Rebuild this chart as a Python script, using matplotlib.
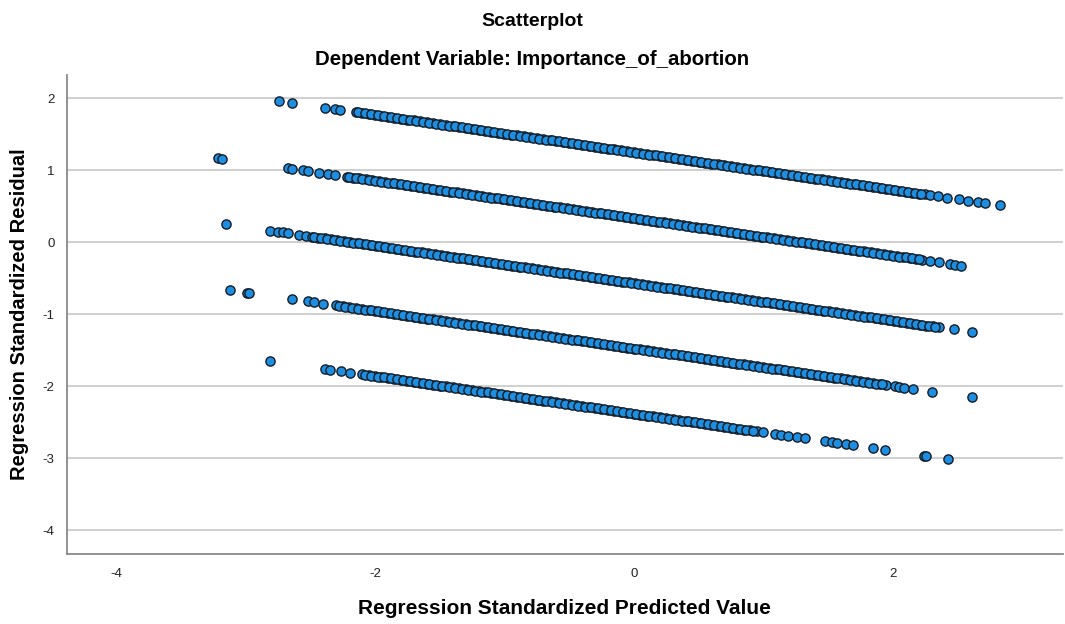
import matplotlib
matplotlib.use('Agg')
import matplotlib.pyplot as plt

plt.rcParams['font.family'] = ['Liberation Sans', 'DejaVu Sans']
plt.rcParams['axes.unicode_minus'] = False

# band 1 (top line of residuals)
band1_x = [-2.74, -2.64, -2.39, -2.31, -2.27,
           -2.15, -2.10, -2.05, -2.00, -1.95, -1.90, -1.85, -1.80, -1.75, -1.70,
           -1.65, -1.60, -1.55, -1.50, -1.45, -1.40, -1.35, -1.30, -1.25, -1.20,
           -1.15, -1.10, -1.05, -1.00, -0.95, -0.90, -0.85, -0.80, -0.75, -0.70,
           -0.65, -0.60, -0.55, -0.50, -0.45, -0.40, -0.35, -0.30, -0.25, -0.20,
           -0.15, -0.10, -0.05, 0.00, 0.05, 0.10, 0.15, 0.20, 0.25, 0.30,
           0.35, 0.40, 0.45, 0.50, 0.55, 0.60, 0.65, 0.70, 0.75, 0.80,
           0.85, 0.90, 0.95, 1.00, 1.05, 1.10, 1.15, 1.20, 1.25, 1.30,
           1.35, 1.40, 1.45, 1.50, 1.55, 1.60, 1.65, 1.70, 1.75, 1.80,
           1.85, 1.90, 1.95, 2.00, 2.05, 2.10, 2.15, 2.20, 2.25,
           2.29, 2.35, 2.42, 2.51, 2.58, 2.66, 2.71, 2.83]
band1_y = [1.959, 1.933, 1.868, 1.848, 1.837,
           1.806, 1.793, 1.780, 1.767, 1.754, 1.741, 1.728, 1.715, 1.702, 1.689,
           1.676, 1.663, 1.650, 1.637, 1.624, 1.611, 1.598, 1.585, 1.572, 1.559,
           1.546, 1.533, 1.520, 1.507, 1.494, 1.481, 1.468, 1.455, 1.442, 1.429,
           1.416, 1.403, 1.390, 1.377, 1.364, 1.351, 1.338, 1.325, 1.312, 1.299,
           1.286, 1.273, 1.260, 1.247, 1.234, 1.221, 1.208, 1.195, 1.182, 1.169,
           1.156, 1.143, 1.130, 1.117, 1.104, 1.091, 1.078, 1.065, 1.052, 1.039,
           1.026, 1.013, 1.000, 0.987, 0.974, 0.961, 0.948, 0.935, 0.922, 0.909,
           0.896, 0.883, 0.870, 0.857, 0.844, 0.831, 0.818, 0.805, 0.792, 0.779,
           0.766, 0.753, 0.740, 0.727, 0.714, 0.701, 0.688, 0.675, 0.662,
           0.652, 0.636, 0.618, 0.594, 0.576, 0.555, 0.542, 0.511]
band1_mid_x = [-2.13, -2.08, -2.03, -1.98, -1.93, -1.88, -1.83, -1.78, -1.73, -1.68,
               -1.63, -1.58, -1.53, -1.48, -1.43, -1.38, -1.33, -1.28, -1.23, -1.18,
               -1.13, -1.08, -1.03, -0.98, -0.93, -0.88, -0.83, -0.78, -0.73, -0.68,
               -0.63, -0.58, -0.53, -0.48, -0.43, -0.38, -0.33, -0.28, -0.23, -0.18,
               -0.13, -0.08, -0.03, 0.02, 0.07, 0.12, 0.17, 0.22, 0.27, 0.32,
               0.37, 0.42, 0.47, 0.52, 0.57, 0.62, 0.67, 0.72, 0.77, 0.82,
               0.87, 0.92, 0.97, 1.02, 1.07, 1.12, 1.17, 1.22, 1.27, 1.32,
               1.37, 1.42, 1.47, 1.52, 1.57, 1.62, 1.67, 1.72, 1.77, 1.82,
               1.87, 1.92, 1.97, 2.02, 2.07, 2.12, 2.17, 2.22]
band1_mid_y = [1.801, 1.788, 1.775, 1.762, 1.749, 1.736, 1.723, 1.710, 1.697, 1.684,
               1.671, 1.658, 1.645, 1.632, 1.619, 1.606, 1.593, 1.580, 1.567, 1.554,
               1.541, 1.528, 1.515, 1.502, 1.489, 1.476, 1.463, 1.450, 1.437, 1.424,
               1.411, 1.398, 1.385, 1.372, 1.359, 1.346, 1.333, 1.320, 1.307, 1.294,
               1.281, 1.268, 1.255, 1.242, 1.229, 1.216, 1.203, 1.190, 1.177, 1.164,
               1.151, 1.138, 1.125, 1.112, 1.099, 1.086, 1.073, 1.060, 1.047, 1.034,
               1.021, 1.008, 0.995, 0.982, 0.969, 0.956, 0.943, 0.930, 0.917, 0.904,
               0.891, 0.878, 0.865, 0.852, 0.839, 0.826, 0.813, 0.800, 0.787, 0.774,
               0.761, 0.748, 0.735, 0.722, 0.709, 0.696, 0.683, 0.670]

band2_x = [-3.21, -3.18, -2.67, -2.64, -2.56, -2.52, -2.43, -2.36, -2.31,
           -2.22, -2.17, -2.12, -2.07, -2.02, -1.97, -1.92, -1.87, -1.82, -1.77,
           -1.72, -1.67, -1.62, -1.57, -1.52, -1.47, -1.42, -1.37, -1.32, -1.27,
           -1.22, -1.17, -1.12, -1.07, -1.02, -0.97, -0.92, -0.87, -0.82, -0.77,
           -0.72, -0.67, -0.62, -0.57, -0.52, -0.47, -0.42, -0.37, -0.32, -0.27,
           -0.22, -0.17, -0.12, -0.07, -0.02, 0.03, 0.08, 0.13, 0.18, 0.23,
           0.28, 0.33, 0.38, 0.43, 0.48, 0.53, 0.58, 0.63, 0.68, 0.73,
           0.78, 0.83, 0.88, 0.93, 0.98, 1.03, 1.08, 1.13, 1.18, 1.23,
           1.28, 1.33, 1.38, 1.43, 1.48, 1.53, 1.58, 1.63, 1.68, 1.73,
           1.78, 1.83, 1.88, 1.93, 1.98, 2.03, 2.08, 2.13, 2.18, 2.23,
           2.29, 2.36, 2.44, 2.48, 2.53]
band2_y = [1.168, 1.160, 1.027, 1.019, 0.999, 0.988, 0.965, 0.947, 0.934,
           0.910, 0.897, 0.884, 0.871, 0.858, 0.845, 0.832, 0.819, 0.806, 0.793,
           0.780, 0.767, 0.754, 0.741, 0.728, 0.715, 0.702, 0.689, 0.676, 0.663,
           0.650, 0.637, 0.624, 0.611, 0.598, 0.585, 0.572, 0.559, 0.546, 0.533,
           0.520, 0.507, 0.494, 0.481, 0.468, 0.455, 0.442, 0.429, 0.416, 0.403,
           0.390, 0.377, 0.364, 0.351, 0.338, 0.325, 0.312, 0.299, 0.286, 0.273,
           0.260, 0.247, 0.234, 0.221, 0.208, 0.195, 0.182, 0.169, 0.156, 0.143,
           0.130, 0.117, 0.104, 0.091, 0.078, 0.065, 0.052, 0.039, 0.026, 0.013,
           0.000, -0.013, -0.026, -0.039, -0.052, -0.065, -0.078, -0.091, -0.104, -0.117,
           -0.130, -0.143, -0.156, -0.169, -0.182, -0.195, -0.208, -0.221, -0.234, -0.247,
           -0.262, -0.281, -0.301, -0.312, -0.325]
band2_mid_x = [-2.20, -2.15, -2.10, -2.05, -2.00, -1.95, -1.90, -1.85, -1.80, -1.75,
               -1.70, -1.65, -1.60, -1.55, -1.50, -1.45, -1.40, -1.35, -1.30, -1.25,
               -1.20, -1.15, -1.10, -1.05, -1.00, -0.95, -0.90, -0.85, -0.80, -0.75,
               -0.70, -0.65, -0.60, -0.55, -0.50, -0.45, -0.40, -0.35, -0.30, -0.25,
               -0.20, -0.15, -0.10, -0.05, 0.00, 0.05, 0.10, 0.15, 0.20, 0.25,
               0.30, 0.35, 0.40, 0.45, 0.50, 0.55, 0.60, 0.65, 0.70, 0.75,
               0.80, 0.85, 0.90, 0.95, 1.00, 1.05, 1.10, 1.15, 1.20, 1.25,
               1.30, 1.35, 1.40, 1.45, 1.50, 1.55, 1.60, 1.65, 1.70, 1.75,
               1.80, 1.85, 1.90, 1.95, 2.00, 2.05, 2.10, 2.15, 2.20]
band2_mid_y = [0.905, 0.892, 0.879, 0.866, 0.853, 0.840, 0.827, 0.814, 0.801, 0.788,
               0.775, 0.762, 0.749, 0.736, 0.723, 0.710, 0.697, 0.684, 0.671, 0.658,
               0.645, 0.632, 0.619, 0.606, 0.593, 0.580, 0.567, 0.554, 0.541, 0.528,
               0.515, 0.502, 0.489, 0.476, 0.463, 0.450, 0.437, 0.424, 0.411, 0.398,
               0.385, 0.372, 0.359, 0.346, 0.333, 0.320, 0.307, 0.294, 0.281, 0.268,
               0.255, 0.242, 0.229, 0.216, 0.203, 0.190, 0.177, 0.164, 0.151, 0.138,
               0.125, 0.112, 0.099, 0.086, 0.073, 0.060, 0.047, 0.034, 0.021, 0.008,
               -0.005, -0.018, -0.031, -0.044, -0.057, -0.070, -0.083, -0.096, -0.109, -0.122,
               -0.135, -0.148, -0.161, -0.174, -0.187, -0.200, -0.213, -0.226, -0.239]

band3_x = [-3.155, -2.81, -2.75, -2.71, -2.67, -2.59, -2.53,
           -2.49, -2.44, -2.39, -2.34, -2.29, -2.24, -2.19, -2.14, -2.09, -2.04,
           -1.99, -1.94, -1.89, -1.84, -1.79, -1.74, -1.69, -1.64, -1.59, -1.54,
           -1.49, -1.44, -1.39, -1.34, -1.29, -1.24, -1.19, -1.14, -1.09, -1.04,
           -0.99, -0.94, -0.89, -0.84, -0.79, -0.74, -0.69, -0.64, -0.59, -0.54,
           -0.49, -0.44, -0.39, -0.34, -0.29, -0.24, -0.19, -0.14, -0.09, -0.04,
           0.01, 0.06, 0.11, 0.16, 0.21, 0.26, 0.31, 0.36, 0.41, 0.46,
           0.51, 0.56, 0.61, 0.66, 0.71, 0.76, 0.81, 0.86, 0.91, 0.96,
           1.01, 1.06, 1.11, 1.16, 1.21, 1.26, 1.31, 1.36, 1.41, 1.46,
           1.51, 1.56, 1.61, 1.66, 1.71, 1.76, 1.81, 1.86, 1.91, 1.96,
           2.01, 2.06, 2.11, 2.16, 2.21, 2.26, 2.31, 2.36,
           2.47, 2.61]
band3_y = [0.250, 0.161, 0.145, 0.135, 0.124, 0.103, 0.088,
           0.077, 0.064, 0.051, 0.038, 0.025, 0.012, -0.001, -0.014, -0.027, -0.040,
           -0.053, -0.066, -0.079, -0.092, -0.105, -0.118, -0.131, -0.144, -0.157, -0.170,
           -0.183, -0.196, -0.209, -0.222, -0.235, -0.248, -0.261, -0.274, -0.287, -0.300,
           -0.313, -0.326, -0.339, -0.352, -0.365, -0.378, -0.391, -0.404, -0.417, -0.430,
           -0.443, -0.456, -0.469, -0.482, -0.495, -0.508, -0.521, -0.534, -0.547, -0.560,
           -0.573, -0.586, -0.599, -0.612, -0.625, -0.638, -0.651, -0.664, -0.677, -0.690,
           -0.703, -0.716, -0.729, -0.742, -0.755, -0.768, -0.781, -0.794, -0.807, -0.820,
           -0.833, -0.846, -0.859, -0.872, -0.885, -0.898, -0.911, -0.924, -0.937, -0.950,
           -0.963, -0.976, -0.989, -1.002, -1.015, -1.028, -1.041, -1.054, -1.067, -1.080,
           -1.093, -1.106, -1.119, -1.132, -1.145, -1.158, -1.171, -1.184,
           -1.212, -1.249]
band3_mid_x = [-2.47, -2.42, -2.37, -2.32, -2.27, -2.22, -2.17, -2.12, -2.07, -2.02,
               -1.97, -1.92, -1.87, -1.82, -1.77, -1.72, -1.67, -1.62, -1.57, -1.52,
               -1.47, -1.42, -1.37, -1.32, -1.27, -1.22, -1.17, -1.12, -1.07, -1.02,
               -0.97, -0.92, -0.87, -0.82, -0.77, -0.72, -0.67, -0.62, -0.57, -0.52,
               -0.47, -0.42, -0.37, -0.32, -0.27, -0.22, -0.17, -0.12, -0.07, -0.02,
               0.03, 0.08, 0.13, 0.18, 0.23, 0.28, 0.33, 0.38, 0.43, 0.48,
               0.53, 0.58, 0.63, 0.68, 0.73, 0.78, 0.83, 0.88, 0.93, 0.98,
               1.03, 1.08, 1.13, 1.18, 1.23, 1.28, 1.33, 1.38, 1.43, 1.48,
               1.53, 1.58, 1.63, 1.68, 1.73, 1.78, 1.83, 1.88, 1.93, 1.98,
               2.03, 2.08, 2.13, 2.18, 2.23, 2.28, 2.33]
band3_mid_y = [0.072, 0.059, 0.046, 0.033, 0.020, 0.007, -0.006, -0.019, -0.032, -0.045,
               -0.058, -0.071, -0.084, -0.097, -0.110, -0.123, -0.136, -0.149, -0.162, -0.175,
               -0.188, -0.201, -0.214, -0.227, -0.240, -0.253, -0.266, -0.279, -0.292, -0.305,
               -0.318, -0.331, -0.344, -0.357, -0.370, -0.383, -0.396, -0.409, -0.422, -0.435,
               -0.448, -0.461, -0.474, -0.487, -0.500, -0.513, -0.526, -0.539, -0.552, -0.565,
               -0.578, -0.591, -0.604, -0.617, -0.630, -0.643, -0.656, -0.669, -0.682, -0.695,
               -0.708, -0.721, -0.734, -0.747, -0.760, -0.773, -0.786, -0.799, -0.812, -0.825,
               -0.838, -0.851, -0.864, -0.877, -0.890, -0.903, -0.916, -0.929, -0.942, -0.955,
               -0.968, -0.981, -0.994, -1.007, -1.020, -1.033, -1.046, -1.059, -1.072, -1.085,
               -1.098, -1.111, -1.124, -1.137, -1.150, -1.163, -1.176]

band4_x = [-3.12, -2.99, -2.97, -2.64, -2.52, -2.47, -2.40,
           -2.30, -2.25, -2.20, -2.15, -2.10, -2.05, -2.00, -1.95, -1.90, -1.85,
           -1.80, -1.75, -1.70, -1.65, -1.60, -1.55, -1.50, -1.45, -1.40, -1.35,
           -1.30, -1.25, -1.20, -1.15, -1.10, -1.05, -1.00, -0.95, -0.90, -0.85,
           -0.80, -0.75, -0.70, -0.65, -0.60, -0.55, -0.50, -0.45, -0.40, -0.35,
           -0.30, -0.25, -0.20, -0.15, -0.10, -0.05, 0.00, 0.05, 0.10, 0.15,
           0.20, 0.25, 0.30, 0.35, 0.40, 0.45, 0.50, 0.55, 0.60, 0.65,
           0.70, 0.75, 0.80, 0.85, 0.90, 0.95, 1.00, 1.05, 1.10, 1.15,
           1.20, 1.25, 1.30, 1.35, 1.40, 1.45, 1.50, 1.55, 1.60, 1.65,
           1.70, 1.75, 1.80, 1.85, 1.90, 1.95,
           2.02, 2.05, 2.09, 2.16, 2.30, 2.61]
band4_y = [-0.666, -0.700, -0.705, -0.791, -0.822, -0.835, -0.853,
           -0.879, -0.892, -0.905, -0.918, -0.931, -0.944, -0.957, -0.970, -0.983, -0.996,
           -1.009, -1.022, -1.035, -1.048, -1.061, -1.074, -1.087, -1.100, -1.113, -1.126,
           -1.139, -1.152, -1.165, -1.178, -1.191, -1.204, -1.217, -1.230, -1.243, -1.256,
           -1.269, -1.282, -1.295, -1.308, -1.321, -1.334, -1.347, -1.360, -1.373, -1.386,
           -1.399, -1.412, -1.425, -1.438, -1.451, -1.464, -1.477, -1.490, -1.503, -1.516,
           -1.529, -1.542, -1.555, -1.568, -1.581, -1.594, -1.607, -1.620, -1.633, -1.646,
           -1.659, -1.672, -1.685, -1.698, -1.711, -1.724, -1.737, -1.750, -1.763, -1.776,
           -1.789, -1.802, -1.815, -1.828, -1.841, -1.854, -1.867, -1.880, -1.893, -1.906,
           -1.919, -1.932, -1.945, -1.958, -1.971, -1.984,
           -2.002, -2.010, -2.020, -2.039, -2.075, -2.156]
band4_mid_x = [-2.28, -2.23, -2.18, -2.13, -2.08, -2.03, -1.98, -1.93, -1.88, -1.83,
               -1.78, -1.73, -1.68, -1.63, -1.58, -1.53, -1.48, -1.43, -1.38, -1.33,
               -1.28, -1.23, -1.18, -1.13, -1.08, -1.03, -0.98, -0.93, -0.88, -0.83,
               -0.78, -0.73, -0.68, -0.63, -0.58, -0.53, -0.48, -0.43, -0.38, -0.33,
               -0.28, -0.23, -0.18, -0.13, -0.08, -0.03, 0.02, 0.07, 0.12, 0.17,
               0.22, 0.27, 0.32, 0.37, 0.42, 0.47, 0.52, 0.57, 0.62, 0.67,
               0.72, 0.77, 0.82, 0.87, 0.92, 0.97, 1.02, 1.07, 1.12, 1.17,
               1.22, 1.27, 1.32, 1.37, 1.42, 1.47, 1.52, 1.57, 1.62, 1.67,
               1.72, 1.77, 1.82, 1.87, 1.92]
band4_mid_y = [-0.884, -0.897, -0.910, -0.923, -0.936, -0.949, -0.962, -0.975, -0.988, -1.001,
               -1.014, -1.027, -1.040, -1.053, -1.066, -1.079, -1.092, -1.105, -1.118, -1.131,
               -1.144, -1.157, -1.170, -1.183, -1.196, -1.209, -1.222, -1.235, -1.248, -1.261,
               -1.274, -1.287, -1.300, -1.313, -1.326, -1.339, -1.352, -1.365, -1.378, -1.391,
               -1.404, -1.417, -1.430, -1.443, -1.456, -1.469, -1.482, -1.495, -1.508, -1.521,
               -1.534, -1.547, -1.560, -1.573, -1.586, -1.599, -1.612, -1.625, -1.638, -1.651,
               -1.664, -1.677, -1.690, -1.703, -1.716, -1.729, -1.742, -1.755, -1.768, -1.781,
               -1.794, -1.807, -1.820, -1.833, -1.846, -1.859, -1.872, -1.885, -1.898, -1.911,
               -1.924, -1.937, -1.950, -1.963, -1.976]

band5_x = [-2.81, -2.39, -2.35, -2.26, -2.19,
           -2.10, -2.05, -2.00, -1.95, -1.90, -1.85, -1.80, -1.75, -1.70, -1.65,
           -1.60, -1.55, -1.50, -1.45, -1.40, -1.35, -1.30, -1.25, -1.20, -1.15,
           -1.10, -1.05, -1.00, -0.95, -0.90, -0.85, -0.80, -0.75, -0.70, -0.65,
           -0.60, -0.55, -0.50, -0.45, -0.40, -0.35, -0.30, -0.25, -0.20, -0.15,
           -0.10, -0.05, 0.00, 0.05, 0.10, 0.15, 0.20, 0.25, 0.30, 0.35,
           0.40, 0.45, 0.50, 0.55, 0.60, 0.65, 0.70, 0.75, 0.80, 0.85,
           0.90, 0.95, 1.00,
           1.09, 1.14, 1.19, 1.26, 1.32, 1.48, 1.53, 1.57, 1.64, 1.69,
           1.85, 1.94, 2.24, 2.26, 2.43]
band5_y = [-1.650, -1.760, -1.770, -1.793, -1.812,
           -1.835, -1.848, -1.861, -1.874, -1.887, -1.900, -1.913, -1.926, -1.939, -1.952,
           -1.965, -1.978, -1.991, -2.004, -2.017, -2.030, -2.043, -2.056, -2.069, -2.082,
           -2.095, -2.108, -2.121, -2.134, -2.147, -2.160, -2.173, -2.186, -2.199, -2.212,
           -2.225, -2.238, -2.251, -2.264, -2.277, -2.290, -2.303, -2.316, -2.329, -2.342,
           -2.355, -2.368, -2.381, -2.394, -2.407, -2.420, -2.433, -2.446, -2.459, -2.472,
           -2.485, -2.498, -2.511, -2.524, -2.537, -2.550, -2.563, -2.576, -2.589, -2.602,
           -2.615, -2.628, -2.641,
           -2.664, -2.677, -2.690, -2.709, -2.724, -2.766, -2.779, -2.789, -2.807, -2.820,
           -2.862, -2.885, -2.963, -2.969, -3.013]
band5_mid_x = [-2.08, -2.03, -1.98, -1.93, -1.88, -1.83, -1.78, -1.73, -1.68, -1.63,
               -1.58, -1.53, -1.48, -1.43, -1.38, -1.33, -1.28, -1.23, -1.18, -1.13,
               -1.08, -1.03, -0.98, -0.93, -0.88, -0.83, -0.78, -0.73, -0.68, -0.63,
               -0.58, -0.53, -0.48, -0.43, -0.38, -0.33, -0.28, -0.23, -0.18, -0.13,
               -0.08, -0.03, 0.02, 0.07, 0.12, 0.17, 0.22, 0.27, 0.32, 0.37,
               0.42, 0.47, 0.52, 0.57, 0.62, 0.67, 0.72, 0.77, 0.82, 0.87,
               0.92]
band5_mid_y = [-1.840, -1.853, -1.866, -1.879, -1.892, -1.905, -1.918, -1.931, -1.944, -1.957,
               -1.970, -1.983, -1.996, -2.009, -2.022, -2.035, -2.048, -2.061, -2.074, -2.087,
               -2.100, -2.113, -2.126, -2.139, -2.152, -2.165, -2.178, -2.191, -2.204, -2.217,
               -2.230, -2.243, -2.256, -2.269, -2.282, -2.295, -2.308, -2.321, -2.334, -2.347,
               -2.360, -2.373, -2.386, -2.399, -2.412, -2.425, -2.438, -2.451, -2.464, -2.477,
               -2.490, -2.503, -2.516, -2.529, -2.542, -2.555, -2.568, -2.581, -2.594, -2.607,
               -2.620]

x_ticks = [-4, -2, 0, 2]
y_ticks = [-4, -3, -2, -1, 0, 1, 2]


def main():
    fig = plt.figure(figsize=(10.65, 6.24), dpi=100)
    ax = fig.add_axes([0.0629, 0.1127, 0.9351, 0.7671])

    series = [(band1_x, band1_y), (band1_mid_x, band1_mid_y),
              (band2_x, band2_y), (band2_mid_x, band2_mid_y),
              (band3_x, band3_y), (band3_mid_x, band3_mid_y),
              (band4_x, band4_y), (band4_mid_x, band4_mid_y),
              (band5_x, band5_y), (band5_mid_x, band5_mid_y)]
    for bx, by in series:
        ax.scatter(bx, by, s=44, c='#1e8fe0', edgecolors='#141c26',
                   linewidths=1.0, zorder=3)

    ax.set_xlim(-4.38, 3.315)
    ax.set_ylim(-4.325, 2.32)
    ax.set_xticks(x_ticks)
    ax.set_yticks(y_ticks)
    ax.grid(axis='y', color='#d0d0d0', linewidth=1.4, zorder=0)
    ax.set_axisbelow(True)
    ax.tick_params(length=0, labelsize=9.5, colors='#222222', pad=10)
    ax.tick_params(axis='y', pad=9)

    for side in ['top', 'right']:
        ax.spines[side].set_visible(False)
    for side in ['left', 'bottom']:
        ax.spines[side].set_color('#8a8a8a')
        ax.spines[side].set_linewidth(1.3)

    ax.set_xlabel('Regression Standardized Predicted Value', fontsize=15,
                  fontweight='bold', labelpad=14)
    ax.set_ylabel('Regression Standardized Residual', fontsize=14.5,
                  fontweight='bold', labelpad=10)

    fig.text(0.5, 0.965, 'Scatterplot', ha='center', va='center',
             fontsize=14, fontweight='bold')
    fig.text(0.5, 0.904, 'Dependent Variable: Importance_of_abortion',
             ha='center', va='center', fontsize=14.7, fontweight='bold')

    fig.savefig('out.png', dpi=100)
    plt.close(fig)


if __name__ == '__main__':
    main()
